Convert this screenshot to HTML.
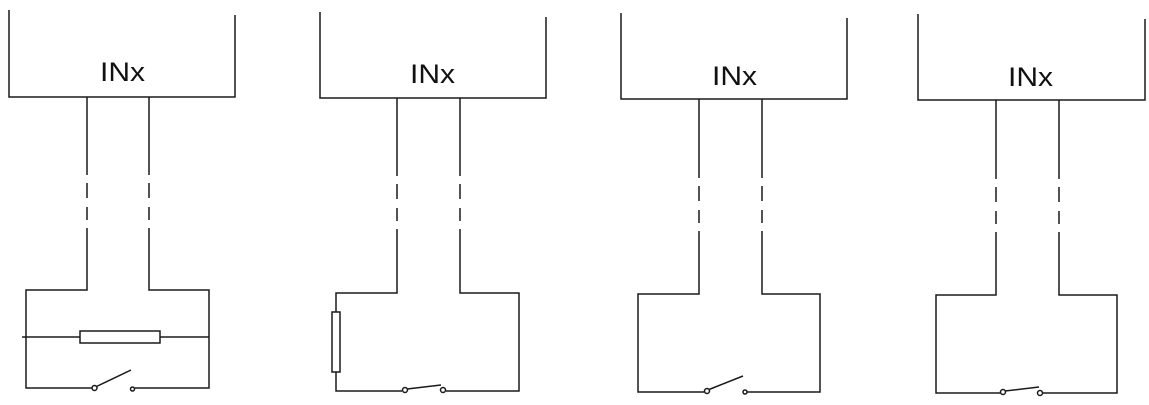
<!DOCTYPE html>
<html><head><meta charset="utf-8"><style>
html,body{margin:0;padding:0;background:#fff;}
svg{display:block;}
text{font-family:"Liberation Sans",sans-serif;font-size:27px;fill:#111;}
</style></head><body>
<svg width="1149" height="405" viewBox="0 0 1149 405" xmlns="http://www.w3.org/2000/svg">
<g stroke="#1a1a1a" stroke-width="1.5" fill="none">
<!-- Panel 1 -->
<path d="M9 10 V97 H235 V15"/>
<path d="M87 97 V175 M87 183 V198 M87 207 V220 M87 228 V290 H26 V388 H92"/>
<path d="M149 97 V175 M149 183 V198 M149 207 V220 M149 228 V290 H209 V388 H135"/>
<path d="M22 337 H80 M160 337 H209"/>
<rect x="80" y="331" width="80" height="12"/>
<circle cx="94.5" cy="388" r="2.5" fill="#fff"/>
<path d="M96.5 386.5 L131 370"/>
<circle cx="132.5" cy="389" r="2" fill="#fff"/>
<!-- Panel 2 -->
<path d="M320 12 V98 H546 V17"/>
<path d="M397 98 V176 M397 184 V199 M397 208 V221 M397 229 V293 H336 V312 M336 372 V391 H402"/>
<path d="M460 98 V176 M460 184 V199 M460 208 V221 M460 229 V293 H519 V391 H446"/>
<rect x="332" y="312" width="8" height="60"/>
<circle cx="405" cy="390" r="2.5" fill="#fff"/>
<path d="M407 389 L441 385"/>
<circle cx="443" cy="390" r="2.5" fill="#fff"/>
<!-- Panel 3 -->
<path d="M621 13 V99 H847 V18"/>
<path d="M699 99 V178 M699 186 V201 M699 210 V223 M699 231 V294 H638 V392 H705"/>
<path d="M762 99 V178 M762 186 V201 M762 210 V223 M762 231 V294 H820 V392 H746"/>
<circle cx="707" cy="391" r="2.5" fill="#fff"/>
<path d="M709 389.5 L743 376"/>
<circle cx="745" cy="392" r="2" fill="#fff"/>
<!-- Panel 4 -->
<path d="M918 14 V100 H1145 V19"/>
<path d="M996 100 V179 M996 187 V202 M996 211 V224 M996 232 V295 H936 V393 H1001"/>
<path d="M1059 100 V179 M1059 187 V202 M1059 211 V224 M1059 232 V295 H1117 V393 H1042"/>
<circle cx="1003" cy="392" r="2.5" fill="#fff"/>
<path d="M1005 391 L1039 387"/>
<circle cx="1040" cy="393" r="2.5" fill="#fff"/>
</g>
<text x="100" y="81" textLength="45" lengthAdjust="spacingAndGlyphs">INx</text>
<text x="410" y="83" textLength="45" lengthAdjust="spacingAndGlyphs">INx</text>
<text x="712" y="85" textLength="45" lengthAdjust="spacingAndGlyphs">INx</text>
<text x="1008" y="86" textLength="45" lengthAdjust="spacingAndGlyphs">INx</text>
</svg>
</body></html>
